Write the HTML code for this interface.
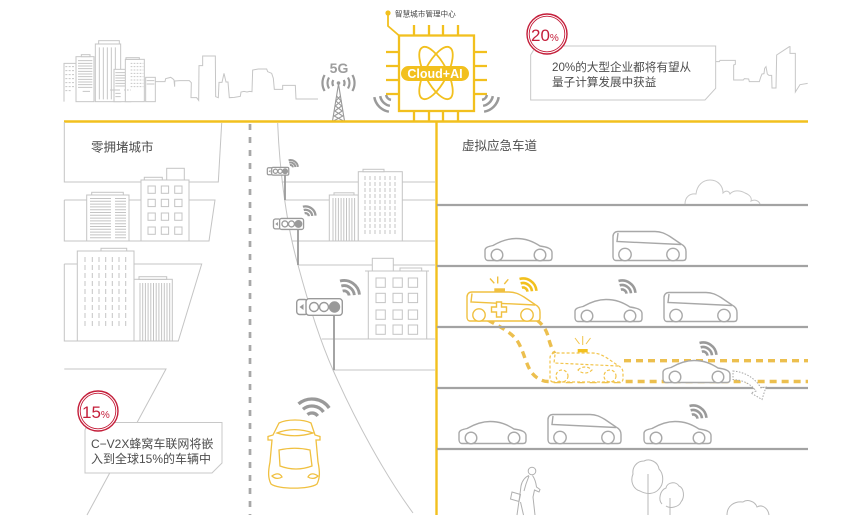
<!DOCTYPE html>
<html><head><meta charset="utf-8"><style>
html,body{margin:0;padding:0;background:#fff;}
svg{display:block;}
text{font-family:"Liberation Sans","Noto Sans CJK SC",sans-serif;}
</style></head><body>
<svg width="847" height="532" viewBox="0 0 847 532" xmlns="http://www.w3.org/2000/svg">
<defs>
 <g id="wifi" fill="none">
  <path d="M-1.16,-4.35 A4.5,4.5 0 0 1 4.48,-0.39 M-2.33,-8.69 A9,9 0 0 1 8.97,-0.78 M-3.49,-13.04 A13.5,13.5 0 0 1 13.45,-1.18"/>
 </g>
 <g id="sedan">
  <path d="M3,22 C1,22 0,20 0,18 L0,12 C0,9 3,8 8,7 C15,3 22,0 31,0 C41,0 48,3 55,7.5 C62,8.5 67,10 67,14 L67,19 C67,21 66,22 64,22 Z" fill="#fff"/>
  <circle cx="12" cy="16.5" r="5.8" fill="#fff"/>
  <circle cx="55" cy="16.5" r="5.8" fill="#fff"/>
 </g>
 <g id="van">
  <path d="M3,29 C1,29 0,27 0,25 L0,5 C0,2 2,0 5,0 L42,0 C48,0 52,2 57,5 L68,12.5 C71,14 73,16 73,20 L73,26 C73,28 72,29 70,29 Z" fill="#fff"/>
  <path d="M5,1.5 L4,10 L68,13" fill="none"/>
  <circle cx="12" cy="23" r="6.2" fill="#fff"/>
  <circle cx="60" cy="23" r="6.2" fill="#fff"/>
 </g>
 <g id="tl">
  <rect x="0.7" y="1.5" width="11" height="15" rx="3" fill="#fff"/>
  <rect x="10" y="0.7" width="36.3" height="16.6" rx="3" fill="#fff"/>
  <path d="M7.5,6 L3.5,9 L7.5,12 Z" fill="#9a9a9a" stroke="none"/>
  <circle cx="18" cy="9" r="4.5" fill="#fff"/>
  <circle cx="28" cy="9" r="4.5" fill="#fff"/>
  <circle cx="38.5" cy="9" r="5" fill="#9a9a9a"/>
 </g>
</defs>

<!-- ===== Top-left skyline (zoom coords) ===== -->
<g transform="translate(0,20) scale(0.33333)" fill="none" stroke="#c6c6c6" stroke-width="3">
 <path d="M192,245 L192,130 L228,130"/>
 <path d="M196,140 H226 M196,152 H226 M196,164 H226 M196,176 H226 M196,188 H226 M196,200 H226 M196,212 H216" stroke-dasharray="6 4"/>
 <rect x="228" y="110" width="54" height="135" fill="#fff"/>
 <rect x="244" y="104" width="26" height="6" fill="#fff"/>
 <path d="M234,122 H277 M234,130 H277 M234,138 H277 M234,146 H277 M234,154 H277 M234,162 H277 M234,170 H277 M234,178 H277 M234,186 H277 M234,194 H277 M234,202 H277 M248,214 H270"/>
 <rect x="286" y="72" width="76" height="173" fill="#fff"/>
 <rect x="296" y="62" width="62" height="10" fill="#fff"/>
 <path d="M298,82 V238 M310,82 V238 M322,82 V238 M334,82 V238 M346,82 V238"/>
 <rect x="342" y="148" width="50" height="97" fill="#fff"/>
 <path d="M346,158 H388 M346,166 H388 M346,174 H388 M346,182 H388 M346,190 H388 M346,198 H388 M330,210 H360 M346,220 H362 M346,230 H362"/>
 <rect x="376" y="118" width="57" height="127" fill="#fff"/>
 <rect x="378" y="113" width="40" height="5" fill="#fff"/>
 <path d="M392,130 H430 M392,140 H430 M392,150 H430 M392,160 H430 M392,170 H430 M392,180 H430 M392,190 H430 M392,200 H430 M372,210 H392" stroke-dasharray="5 4"/>
 <rect x="437" y="172" width="29" height="73" fill="#fff"/>
 <path d="M440,182 H463 M440,192 H463"/>
 <path d="M466,185 L495,185 L497,176 L512,172 L518,176 L522,180 L524,200 L524,183 L540,182 L568,182 L574,188 L573,233 L590,233 L596,241 L597,137 L608,137 L608,108 L646,108 L647,230 L655,233 L657,187 L666,187 L672,160 L678,186 L684,186 L688,233 L703,232 L721,229 L723,216 L732,214 L741,216 L749,214 L756,215 L758,150 L775,147 L800,147 L803,155 L815,160 L820,175 L823,208 L848,208 L848,196 L886,196 L888,237 L954,237"/>
</g>

<!-- ===== Top-right skyline + 20% callout (zoom coords) ===== -->
<g transform="translate(510,0) scale(0.33333)" fill="none" stroke="#c6c6c6" stroke-width="3">
 <path d="M617,185 L628,185 L630,181 L676,181 L676,193 L671,195 L671,240 L700,240 L703,236 L716,237 L718,245 L748,245 L752,232 L756,222 L762,221 L764,205 L768,200 L772,222 L777,226 L785,226 L786,264 L798,264 L800,165 L838,140 L840,140 L840,160 L856,160 L856,276 L870,254 L893,250"/>
 <path d="M78,138 L617,138 L617,265 L585,300 L62,300 L62,165 Z" fill="#fff" stroke="#c8c8c8"/>
</g>
<circle cx="547" cy="34" r="20" fill="#fff" stroke="#c41e3a" stroke-width="1.4"/>
<circle cx="547" cy="34" r="17.8" fill="none" stroke="#c41e3a" stroke-width="0.9"/>
<text x="531" y="41" font-size="17" fill="#c41e3a">20<tspan font-size="10">%</tspan></text>
<text x="552" y="71" font-size="11.6" fill="#4d4d4d">20%的大型企业都将有望从</text>
<text x="552" y="86" font-size="11.6" fill="#4d4d4d">量子计算发展中获益</text>

<!-- ===== 5G tower ===== -->
<text x="339" y="73" font-size="14" font-weight="bold" fill="#9d9d9d" text-anchor="middle">5G</text>
<g fill="none" stroke="#9a9a9a" stroke-width="2.2">
 <path d="M333.3,86 A6,6 0 0 1 333.3,80 M329,88.5 A11,11 0 0 1 329,77.5 M324.6,91 A16,16 0 0 1 324.6,75"/>
 <path d="M343.7,80 A6,6 0 0 1 343.7,86 M348,77.5 A11,11 0 0 1 348,88.5 M352.4,75 A16,16 0 0 1 352.4,91"/>
</g>
<circle cx="338.5" cy="83" r="1.8" fill="#9a9a9a"/>
<g fill="none" stroke="#9a9a9a" stroke-width="1.1">
 <path d="M338.5,84 L332.5,121 M338.5,84 L344.5,121"/>
 <path d="M336.5,96 L341.2,101 L335.3,106 L342.3,111 L334.2,116 L343.5,121 M340.5,96 L335.8,101 L341.7,106 L334.7,111 L342.8,116 L333.5,121"/>
</g>

<!-- ===== Chip ===== -->
<g stroke="#f2c01e" fill="none" stroke-width="2.3">
 <rect x="399" y="35.5" width="75" height="75.5"/>
 <path d="M414,25 V35 M429,25 V35 M443,25 V35 M458,25 V35"/>
 <path d="M414,111 V121 M429,111 V121 M443,111 V121 M458,111 V121"/>
 <path d="M386,52 H399 M386,66 H399 M386,80 H399 M386,94 H399"/>
 <path d="M474,52 H487 M474,66 H487 M474,80 H487 M474,94 H487"/>
 <path d="M388,13 L388,26 L399,35.5" stroke-width="1.8"/>
 <ellipse cx="436" cy="73" rx="29" ry="11" transform="rotate(62 436 73)" stroke-width="1.8"/>
 <ellipse cx="436" cy="73" rx="29" ry="11" transform="rotate(-62 436 73)" stroke-width="1.8"/>
</g>
<circle cx="388" cy="13" r="2.6" fill="#f2c01e"/>
<text x="395" y="16.5" font-size="7.6" fill="#444">智慧城市管理中心</text>
<rect x="401" y="66" width="68" height="15" rx="7.5" fill="#f2c01e"/>
<text x="435" y="78" font-size="12.5" font-weight="bold" fill="#fff" text-anchor="middle">Cloud+AI</text>
<g fill="none" stroke="#9a9a9a" stroke-width="2.5">
 <path d="M391,99.9 A6,6 0 0 1 386.1,95 M389.9,105.8 A12,12 0 0 1 380.2,96.1 M388.9,111.7 A18,18 0 0 1 374.3,97.1"/>
 <path d="M482,99.9 A6,6 0 0 0 486.9,95 M483.1,105.8 A12,12 0 0 0 492.8,96.1 M484.1,111.7 A18,18 0 0 0 498.7,97.1"/>
</g>

<!-- ===== Main yellow frame ===== -->
<path d="M64,121.5 H808" stroke="#f2c01e" stroke-width="2.4"/>
<path d="M436.5,121 V515" stroke="#f2c01e" stroke-width="2.4"/>

<!-- ===== Left city ===== -->
<g fill="none" stroke="#c4c4c4" stroke-width="1">
 <path d="M64.3,122 L64.3,182 L218.3,182 L221.7,123"/>
 <path d="M64.3,200 L64.3,241 L209,241 L215,200 L189,200 M64.3,200 L87,200 M129,200 L141,200"/>
 <rect x="86.7" y="195" width="42.3" height="46" fill="#fff"/>
 <rect x="91.7" y="192.3" width="31.6" height="2.7" fill="#fff"/>
 <path d="M90,198.5 H111 M90,201.3 H111 M90,204.1 H111 M90,206.9 H111 M90,209.7 H111 M90,212.5 H111 M90,215.3 H111 M90,218.1 H111 M90,220.9 H111 M90,223.7 H111 M90,226.5 H111 M90,229.3 H111 M90,232.1 H111 M90,234.9 H111 M90,237.7 H111"/>
 <path d="M115,198.5 H126 M115,201.3 H126 M115,204.1 H126 M115,206.9 H126 M115,209.7 H126 M115,212.5 H126 M115,215.3 H126 M115,218.1 H126 M115,220.9 H126 M115,223.7 H126 M115,226.5 H126 M115,229.3 H126 M115,232.1 H126 M115,234.9 H126 M115,237.7 H126"/>
 <rect x="141" y="180" width="48" height="61" fill="#fff"/>
 <rect x="144.3" y="177.3" width="18" height="2.7" fill="#fff"/>
 <rect x="166.7" y="168.3" width="17.6" height="11.7" fill="#fff"/>
 <g>
  <rect x="148" y="186" width="7.3" height="7.3"/><rect x="161.3" y="186" width="7.3" height="7.3"/><rect x="174.7" y="186" width="7.3" height="7.3"/>
  <rect x="148" y="199.3" width="7.3" height="7.3"/><rect x="161.3" y="199.3" width="7.3" height="7.3"/><rect x="174.7" y="199.3" width="7.3" height="7.3"/>
  <rect x="148" y="213" width="7.3" height="7.3"/><rect x="161.3" y="213" width="7.3" height="7.3"/><rect x="174.7" y="213" width="7.3" height="7.3"/>
  <rect x="148" y="227" width="7.3" height="7.3"/><rect x="161.3" y="227" width="7.3" height="7.3"/><rect x="174.7" y="227" width="7.3" height="7.3"/>
 </g>
 <path d="M64.3,264 L64.3,341 L178.3,341 L201.7,264 L134,264 M64.3,264 L77.3,264"/>
 <rect x="77.3" y="251" width="56.7" height="90" fill="#fff"/>
 <rect x="101" y="248.3" width="25.7" height="2.7" fill="#fff"/>
 <path d="M85,257 V328 M92.3,257 V328 M99,257 V328 M105.7,257 V328 M112.3,257 V328 M119,257 V328 M125.7,257 V328" stroke-dasharray="5 3"/>
 <rect x="134" y="279.3" width="38.3" height="61.7" fill="#fff"/>
 <rect x="139" y="276.7" width="27.7" height="2.6" fill="#fff"/>
 <path d="M140,283 V341 M142.7,283 V341 M145.4,283 V341 M148.1,283 V341 M150.8,283 V341 M153.5,283 V341 M156.2,283 V341 M158.9,283 V341 M161.6,283 V341 M164.3,283 V341 M167,283 V341 M169.7,283 V341"/>
 <path d="M64.3,369 L166,369 L87,515"/>
</g>
<text x="91" y="151.5" font-size="12.5" fill="#4d4d4d">零拥堵城市</text>

<!-- 15% callout -->
<path d="M88,422.5 L222,422.5 L222,463 L212,473 L85,473 L85,430 Z" fill="#fff" stroke="#c8c8c8" stroke-width="1"/>
<circle cx="98" cy="411" r="20" fill="#fff" stroke="#c41e3a" stroke-width="1.4"/>
<circle cx="98" cy="411" r="17.8" fill="none" stroke="#c41e3a" stroke-width="0.9"/>
<text x="82" y="418" font-size="17" fill="#c41e3a">15<tspan font-size="10">%</tspan></text>
<text x="91" y="448" font-size="12" fill="#4d4d4d">C−V2X蜂窝车联网将嵌</text>
<text x="91" y="463" font-size="12" fill="#4d4d4d">入到全球15%的车辆中</text>

<!-- ===== Center street ===== -->
<path d="M250,124 V515" stroke="#a8a8a8" stroke-width="2.7" stroke-dasharray="6 7"/>
<g fill="none" stroke="#c4c4c4" stroke-width="1">
 <path d="M277.7,123 C279,160 285,220 298,265 C310,310 322,345 333,370 C355,420 385,475 413,513"/>
 <path d="M281.7,182 H435 M285,200 H435 M291.7,241 H435 M298,265 H435 M321.7,339 H435 M333,370 H435"/>
 <rect x="329.3" y="195" width="29" height="46" fill="#fff"/>
 <rect x="334" y="192.8" width="20" height="2.2" fill="#fff"/>
 <path d="M333,198 V241 M335.7,198 V241 M338.4,198 V241 M341.1,198 V241 M343.8,198 V241 M346.5,198 V241 M349.2,198 V241 M351.9,198 V241 M354.6,198 V241"/>
 <rect x="358.3" y="171.7" width="44" height="69.3" fill="#fff"/>
 <rect x="363" y="169.3" width="21" height="2.4" fill="#fff"/>
 <path d="M365,176 V236 M370,176 V236 M375,176 V236 M380,176 V236 M385,176 V236 M390,176 V236 M395,176 V236" stroke-dasharray="4 2"/>
 <rect x="368.3" y="271" width="58.4" height="68" fill="#fff"/>
 <path d="M365,271 H429"/>
 <rect x="372.3" y="258.3" width="21" height="12.7" fill="#fff"/>
 <rect x="400" y="268" width="21.7" height="3" fill="#fff"/>
 <g>
  <rect x="376" y="278" width="9.3" height="9.3"/><rect x="393" y="278" width="9.3" height="9.3"/><rect x="408.3" y="278" width="9.3" height="9.3"/>
  <rect x="376" y="293.3" width="9.3" height="9.3"/><rect x="393" y="293.3" width="9.3" height="9.3"/><rect x="408.3" y="293.3" width="9.3" height="9.3"/>
  <rect x="376" y="310" width="9.3" height="9.3"/><rect x="393" y="310" width="9.3" height="9.3"/><rect x="408.3" y="310" width="9.3" height="9.3"/>
  <rect x="376" y="325" width="9.3" height="9.3"/><rect x="393" y="325" width="9.3" height="9.3"/><rect x="408.3" y="325" width="9.3" height="9.3"/>
 </g>
</g>
<g stroke="#9a9a9a" stroke-width="1.8">
 <path d="M285,175 V200 M298,228 V265 M334,316 V370"/>
</g>
<use href="#tl" transform="translate(267,167) scale(0.47)" stroke="#9a9a9a" stroke-width="2.6"/>
<use href="#tl" transform="translate(273,218) scale(0.66)" stroke="#9a9a9a" stroke-width="2"/>
<use href="#tl" transform="translate(296,298)" stroke="#9a9a9a" stroke-width="1.4"/>
<use href="#wifi" transform="translate(290.5,167.5) scale(0.55)" stroke="#9a9a9a" stroke-width="3.6"/>
<use href="#wifi" transform="translate(305.5,216.5) scale(0.75)" stroke="#9a9a9a" stroke-width="3"/>
<use href="#wifi" transform="translate(344,296) scale(1.15)" stroke="#9a9a9a" stroke-width="2.5"/>

<!-- top-view yellow car -->
<g fill="none" stroke="#f0c040" stroke-width="1.3">
 <path d="M279,423 C287,419 303,419 311,423 L315,435 L320,436.5 L320,440 L316,440 L318,462 C320,472 320,478 317,484 C310,489.5 278,489.5 271,484 C268,478 268,472 270,462 L272,440 L268,440 L268,436.5 L273,435 Z" fill="#fff"/>
 <path d="M277,433 C288,428.5 301,428.5 313,433 C301,436.5 288,436.5 277,433 Z"/>
 <path d="M279,450 Q295,446.5 310,450 L312,466 Q296,472 280,466 Z"/>
 <path d="M272,476 C276,473 280,473 282,477 C279,479 275,479 272,476 Z"/>
 <path d="M308,477 C310,473 314,473 318,476 C315,479 311,479 308,477 Z"/>
</g>
<g fill="none" stroke="#9a9a9a" stroke-width="3.3">
 <path d="M307.5,414.6 A7,7 0 0 1 317.7,416 M303,409.3 A14,14 0 0 1 323.5,412 M298.5,403.9 A21,21 0 0 1 329.2,408"/>
</g>

<!-- ===== Right: virtual emergency lane ===== -->
<text x="462" y="150" font-size="12.5" fill="#4d4d4d">虚拟应急车道</text>
<path d="M685,204 C685,197 690,193 696,194 C697,185 703,180 710,180 C718,180 723,186 723,193 C726,190 729,191 730,194 C733,190 740,190 745,193 C750,195 752,198 751,201 C755,199 759,201 760,204" fill="none" stroke="#c8c8c8" stroke-width="1"/>

<!-- yellow dashed route -->
<g fill="none" stroke="#ecbf4e" stroke-width="3.4" stroke-dasharray="7 5">
 <path d="M488,320 C498,326 512,332 518,342 C524,352 526,365 532,373 C536,378 542,381.5 548,381.5 L808,381.5"/>
 <path d="M537,320 C543,325 547,330 549,340 C551,347 553,351 555,354"/>
 <path d="M624,360.7 L808,360.7"/>
</g>

<!-- road lines -->
<g stroke="#a3a3a3" stroke-width="2.2">
 <path d="M437,205 H808 M437,266 H808 M437,327 H808 M437,388 H808 M437,449 H808"/>
</g>

<!-- vehicles -->
<g stroke="#a8a8a8" stroke-width="1.4">
 <use href="#sedan" transform="translate(485,238.5)"/>
 <use href="#van" transform="translate(613,231.5)"/>
 <use href="#sedan" transform="translate(575,299.5)"/>
 <use href="#van" transform="translate(664,292.5)"/>
 <use href="#sedan" transform="translate(663,360.5)"/>
 <use href="#sedan" transform="translate(459,421.5)"/>
 <use href="#van" transform="translate(548,414.5)"/>
 <use href="#sedan" transform="translate(644,421.5)"/>
</g>

<!-- ambulance -->
<g stroke="#f0c040" stroke-width="1.4">
 <use href="#van" transform="translate(467,292)"/>
 <path d="M496.5,302 h5 v5 h5 v5 h-5 v5 h-5 v-5 h-5 v-5 h5 z" fill="#fff"/>
 <path d="M497.7,276.5 V283.5 M490,278.5 L494.3,283.3 M508.3,279.3 L504.3,284" fill="none"/>
</g>
<rect x="494.3" y="288.3" width="10.7" height="3.6" fill="#f0c040"/>

<!-- ghost ambulance -->
<g fill="none" stroke="#f2c44a" stroke-width="1.2" stroke-dasharray="3 2">
 <path d="M553,382 C551,382 550,380 550,378 L550,358 C550,355 552,353 555,353 L592,353 C598,353 602,355 607,358 L618,365.5 C621,367 623,369 623,373 L623,379 C623,381 622,382 620,382 Z" fill="#fff"/>
 <path d="M555,354.5 L554,363 L618,366"/>
 <circle cx="562" cy="376" r="6"/>
 <circle cx="610" cy="376" r="6"/>
 <path d="M578,370 C582,366 588,366 592,370 C588,374 582,374 578,370 Z"/>
</g>
<g stroke="#f2c44a" stroke-width="1" fill="none">
 <path d="M582.7,336 V345 M575,338 L579.5,344 M590.5,338 L586,344"/>
</g>
<rect x="577.7" y="349" width="10" height="3.4" fill="#f2c01e"/>

<!-- wifi on vehicles -->
<use href="#wifi" transform="translate(523,292)" stroke="#f2c01e" stroke-width="2.6"/>
<use href="#wifi" transform="translate(622,294)" stroke="#9a9a9a" stroke-width="2.6"/>
<use href="#wifi" transform="translate(703,356)" stroke="#9a9a9a" stroke-width="2.6"/>
<use href="#wifi" transform="translate(693,419)" stroke="#9a9a9a" stroke-width="2.6"/>

<!-- dotted arrow -->
<path d="M733,371 C745,372 755,378 761,388 L766,387 L762,399.5 L751,393 L756,391 C751,384 743,380 733,379.5 Z" fill="#fff" stroke="#a8a8a8" stroke-width="1" stroke-dasharray="1.5 1.5"/>

<!-- pedestrian -->
<g fill="none" stroke="#b0b0b0" stroke-width="1">
 <circle cx="532" cy="471" r="3.8"/>
 <path d="M529,475.5 C525,477 522,481 521,486 L520,494 L517,515"/>
 <path d="M532.5,475.5 C535,479 536,483 536.5,487 L540,489.5 L539,492 L534.5,490 L533,497 L535,515"/>
 <path d="M529,476 L526,484 L524,491"/>
 <path d="M520.5,502 L523.5,515"/>
 <path d="M512,492 L520.5,494.5 L519,501.5 L510.5,499 Z"/>
</g>

<!-- trees and bush -->
<g fill="none" stroke="#b8b8b8" stroke-width="1">
 <path d="M662,504 C658,500 660,490 666,488 C667,482 676,481 679,486 C684,488 685,497 681,502 C679,507 670,509 666,506" fill="#fff"/>
 <path d="M640,491 C633,489 630,481 633,474 C632,467 637,461 644,461 C650,458 658,462 659,469 C664,474 664,484 659,489 C655,494 647,495 640,491 Z" fill="#fff"/>
 <path d="M648,474 V515 M670,498 V515"/>
 <path d="M727,515 C727,506 734,501 743,502 C747,499 755,501 757,507 C762,504 768,508 769,515"/>
</g>
</svg>
</body></html>
